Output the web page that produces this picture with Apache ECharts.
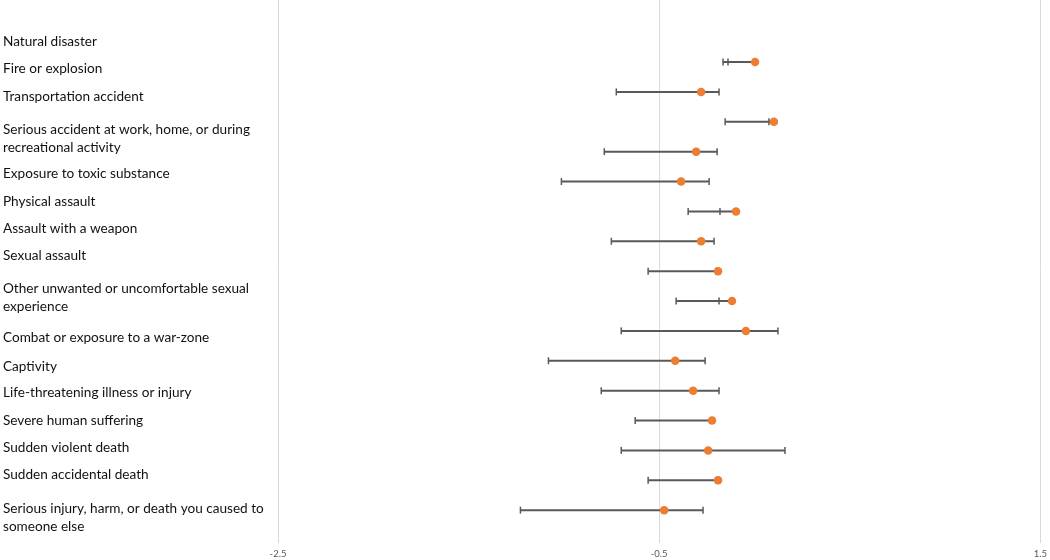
<!DOCTYPE html>
<html>
<head>
<meta charset="utf-8">
<script src="https://cdn.jsdelivr.net/npm/echarts@6/dist/echarts.min.js"></script>
<style>html,body{margin:0;padding:0;background:#fff}#c{width:1050px;height:560px}</style>
</head>
<body>
<div id="c"></div>
<script>
// ---- data ----
const categories = [
  "Natural disaster",
  "Fire or explosion",
  "Transportation accident",
  "Serious accident at work, home, or during\nrecreational activity",
  "Exposure to toxic substance",
  "Physical assault",
  "Assault with a weapon",
  "Sexual assault",
  "Other unwanted or uncomfortable sexual\nexperience",
  "Combat or exposure to a war-zone",
  "Captivity",
  "Life-threatening illness or injury",
  "Severe human suffering",
  "Sudden violent death",
  "Sudden accidental death",
  "Serious injury, harm, or death you caused to\nsomeone else"
];
const estimate = [0.003, -0.28, 0.102, -0.306, -0.385, -0.097, -0.28, -0.191, -0.118, -0.045, -0.416, -0.322, -0.223, -0.243, -0.191, -0.474];
const lowCap   = [-0.165, -0.725, -0.154, -0.788, -1.013, -0.348, -0.751, -0.558, -0.411, -0.699, -1.081, -0.804, -0.626, -0.699, -0.558, -1.228];
const highCap  = [-0.139, -0.186, 0.076, -0.196, -0.238, -0.181, -0.212, -0.202, -0.186, 0.123, -0.259, -0.186, -0.212, 0.160, -0.202, -0.270];
const xTicks = [-2.5, -0.5, 1.5];

// ---- layout (label text positions, px) ----
const labelY = [42, 69, 97, 139, 174, 202, 229, 256, 298, 338, 367, 393, 421, 448, 475, 517.5];

const barData = estimate.map((v, i) => [i, lowCap[i], highCap[i], v]);
const pointData = estimate.map((v, i) => [v, i]);

const chart = echarts.init(document.getElementById('c'), null, {renderer: 'canvas'});
chart.setOption({
  animation: false,
  backgroundColor: '#fff',
  grid: {left: 278, right: 8, top: 0, bottom: 17, containLabel: false},
  xAxis: {
    type: 'value', min: xTicks[0], max: xTicks[xTicks.length - 1], interval: 2,
    axisLine: {show: false}, axisTick: {show: false},
    splitLine: {show: true, lineStyle: {color: '#d9d9d9', width: 1}},
    axisLabel: {color: '#595959', fontSize: 9.5, fontFamily: 'Lato, sans-serif', margin: 6,
      formatter: v => String(v)}
  },
  yAxis: {
    type: 'value', inverse: true, min: -2.076, max: 16.1, show: false,
    splitLine: {show: false}
  },
  graphic: categories.map((t, i) => ({
    type: 'text', left: 3, top: labelY[i] - (t.indexOf('\n') >= 0 ? 18 : 9),
    style: {text: t, fill: '#111111', font: '13.6px Lato, "Open Sans", sans-serif', lineHeight: 18}
  })),
  series: [
    {
      type: 'custom',
      data: barData,
      encode: {x: [1, 2, 3], y: 0},
      z: 2,
      renderItem: function (params, api) {
        const i = api.value(0), lo = api.value(1), hi = api.value(2), pt = api.value(3);
        const a = api.coord([Math.min(lo, hi, pt), i]);
        const b = api.coord([Math.max(lo, hi, pt), i]);
        const cl = api.coord([lo, i]);
        const ch = api.coord([hi, i]);
        const style = {stroke: '#595959', lineWidth: 2};
        const h = 3.5;
        return {
          type: 'group',
          children: [
            {type: 'line', shape: {x1: a[0], y1: a[1], x2: b[0], y2: b[1]}, style: style},
            {type: 'line', shape: {x1: cl[0], y1: cl[1] - h, x2: cl[0], y2: cl[1] + h}, style: {stroke: '#595959', lineWidth: 1.5}},
            {type: 'line', shape: {x1: ch[0], y1: ch[1] - h, x2: ch[0], y2: ch[1] + h}, style: {stroke: '#595959', lineWidth: 1.5}}
          ]
        };
      }
    },
    {
      type: 'scatter',
      data: pointData,
      symbol: 'circle',
      symbolSize: 8.5,
      z: 3,
      itemStyle: {color: '#ED7D31', opacity: 1}
    }
  ]
});
</script>
</body>
</html>
